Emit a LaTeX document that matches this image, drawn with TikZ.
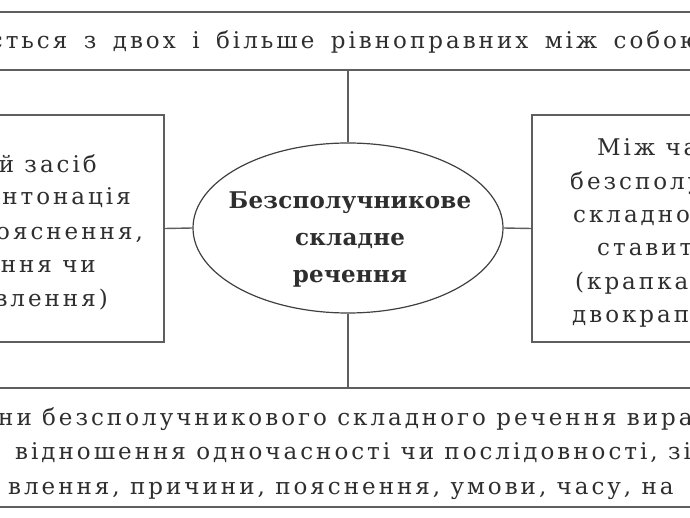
\documentclass[tikz,border=0pt]{standalone}
\usepackage{fontspec}
\setmainfont{DejaVu Serif}[LetterSpace=13, BoldFeatures={LetterSpace=1}]
\newfontfamily\widefont{DejaVu Serif}[LetterSpace=13, WordSpace=1.6]
\usetikzlibrary{shapes.geometric}
\definecolor{inkgray}{HTML}{2E2E2E}
\definecolor{rulegray}{HTML}{5E5E5E}

\begin{document}
\begin{tikzpicture}[x=1pt, y=-1pt, every node/.style={font=\fontsize{23}{33}\selectfont, text=inkgray, inner sep=0pt},
	frame/.style={draw=rulegray, line width=1.6pt, rectangle},
	link/.style={draw=rulegray, line width=1.4pt}]
	\useasboundingbox (0,0) rectangle (690,518);
	\clip (0,0) rectangle (690,518);
	% boxes
	\node[frame, minimum width=760pt, minimum height=58pt] (upper) at (345,41) {};
	\node[anchor=base, font=\widefont\fontsize{23}{33}\selectfont] (uppertext) at (345,49) {ється з двох і більше рівноправних між собою};
	\node[frame, minimum width=760pt, minimum height=119pt] (lower) at (345,447.5) {};
	\node[frame, minimum width=260pt, minimum height=227pt] (leftbox) at (34,228.5) {};
	\node[frame, minimum width=260pt, minimum height=227pt] (rightbox) at (662,228.5) {};
	\node[ellipse, draw=black!75, line width=1.2pt, minimum width=310pt, minimum height=170pt] (core) at (348,228) {};
	\node[align=center, font=\bfseries\fontsize{23}{37}\selectfont] (corelabel) at (350,240) {Безсполучникове\\складне\\речення};
	% links
	\draw[link] (core.north) -- (core.north |- upper.south);
	\draw[link] (core.south) -- (core.south |- lower.north);
	\draw[link] (leftbox.east) -- (core.west);
	\draw[link] (core.east) -- (rightbox.west);
	% left lines
	\foreach \t/\xx/\yy [count=\i] in {й засіб/97/173, інтонація/131/205, {пояснення,}/143/240, ння чи/96/273, влення)/108/306}
		\node[anchor=base east] (lt\i) at (\xx,\yy) {\t};
	% right lines
	\foreach \t/\xx/\yy [count=\i] in {Між ча/597/156, безсполуч/570/190, складног/573/223, ставить/597/256, {(крапка,}/575/290, двокрапк/572/323}
		\node[anchor=base west] (rt\i) at (\xx,\yy) {\t};
	% bottom lines
	\foreach \t/\xx/\yy [count=\i] in {ни безсполучникового складного речення вира/-2/425, {відношення одночасності чи послідовності, зіс}/15/459, {влення, причини, пояснення, умови, часу, на}/8/494}
		\node[anchor=base west] (bt\i) at (\xx,\yy) {\t};
\end{tikzpicture}
\end{document}
